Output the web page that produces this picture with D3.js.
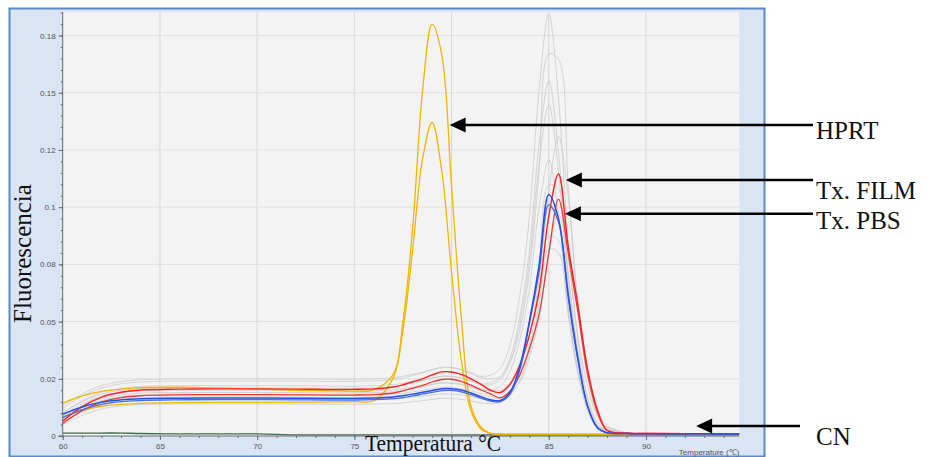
<!DOCTYPE html>
<html>
<head>
<meta charset="utf-8">
<script src="https://cdn.jsdelivr.net/npm/d3@7"></script>
<style>
  html, body { margin: 0; padding: 0; background: #ffffff; }
  svg { display: block; }
</style>
</head>
<body>
<svg id="chart" width="929" height="457"></svg>
<script>
// Melt-curve readings (-dF/dT), sampled at these temperatures (°C)
const temps = [60,61,62,63,64,66,68,70,72,74,75,76,77,77.5,78,78.5,79,79.5,80,80.5,81,81.5,82,82.5,83,83.5,84,84.5,85,85.5,86,86.5,87,87.5,88,89,90,92,94.8];

// Other wells (shown in light grey)
const grey1 = [0.0130,0.0184,0.0220,0.0238,0.0246,0.0250,0.0250,0.0250,0.0250,0.0248,0.0248,0.0250,0.0254,0.0261,0.0270,0.0279,0.0291,0.0300,0.0299,0.0291,0.0277,0.0261,0.0266,0.0295,0.0394,0.0607,0.0956,0.1509,0.1845,0.1474,0.0839,0.0418,0.0166,0.0052,0.0025,0.0013,0.0009,0.0008,0.0007];
const grey2 = [0.0120,0.0174,0.0210,0.0228,0.0236,0.0240,0.0240,0.0240,0.0240,0.0238,0.0239,0.0241,0.0246,0.0254,0.0264,0.0275,0.0289,0.0300,0.0299,0.0290,0.0273,0.0255,0.0249,0.0258,0.0321,0.0458,0.0718,0.1150,0.1670,0.1647,0.1087,0.0567,0.0259,0.0095,0.0039,0.0013,0.0009,0.0008,0.0007];
const grey3 = [0.0100,0.0154,0.0190,0.0208,0.0216,0.0220,0.0220,0.0220,0.0220,0.0218,0.0218,0.0220,0.0224,0.0230,0.0237,0.0243,0.0253,0.0261,0.0260,0.0254,0.0242,0.0228,0.0233,0.0256,0.0340,0.0517,0.0810,0.1272,0.1551,0.1239,0.0704,0.0352,0.0140,0.0044,0.0023,0.0012,0.0009,0.0008,0.0007];
const grey4 = [0.0100,0.0150,0.0183,0.0199,0.0207,0.0210,0.0210,0.0210,0.0210,0.0208,0.0209,0.0210,0.0215,0.0222,0.0231,0.0240,0.0252,0.0261,0.0261,0.0253,0.0239,0.0223,0.0225,0.0244,0.0321,0.0487,0.0758,0.1187,0.1447,0.1155,0.0657,0.0328,0.0130,0.0041,0.0022,0.0012,0.0009,0.0008,0.0007];
const grey5 = [0.0090,0.0140,0.0173,0.0189,0.0197,0.0200,0.0200,0.0200,0.0200,0.0198,0.0198,0.0200,0.0202,0.0207,0.0213,0.0218,0.0226,0.0232,0.0231,0.0226,0.0217,0.0205,0.0201,0.0201,0.0228,0.0293,0.0437,0.0678,0.1067,0.1308,0.1047,0.0591,0.0296,0.0116,0.0046,0.0015,0.0009,0.0008,0.0007];
const grey6 = [0.0080,0.0130,0.0163,0.0179,0.0187,0.0190,0.0190,0.0190,0.0190,0.0188,0.0189,0.0190,0.0194,0.0200,0.0207,0.0214,0.0224,0.0232,0.0231,0.0225,0.0213,0.0200,0.0201,0.0217,0.0281,0.0417,0.0641,0.0996,0.1207,0.0962,0.0547,0.0273,0.0109,0.0034,0.0020,0.0012,0.0009,0.0008,0.0007];
const grey7 = [0.0080,0.0125,0.0155,0.0170,0.0177,0.0180,0.0180,0.0180,0.0180,0.0178,0.0179,0.0180,0.0182,0.0187,0.0193,0.0199,0.0207,0.0213,0.0212,0.0207,0.0198,0.0186,0.0183,0.0190,0.0231,0.0319,0.0486,0.0763,0.1098,0.1078,0.0711,0.0370,0.0169,0.0062,0.0029,0.0013,0.0009,0.0008,0.0007];
const grey8 = [0.0070,0.0115,0.0145,0.0160,0.0167,0.0170,0.0170,0.0170,0.0170,0.0168,0.0169,0.0170,0.0173,0.0178,0.0184,0.0189,0.0197,0.0203,0.0202,0.0197,0.0188,0.0177,0.0172,0.0169,0.0188,0.0235,0.0340,0.0514,0.0796,0.0969,0.0774,0.0437,0.0219,0.0086,0.0037,0.0014,0.0009,0.0008,0.0007];
const grey9 = [0.0060,0.0105,0.0135,0.0150,0.0157,0.0160,0.0160,0.0160,0.0160,0.0158,0.0159,0.0160,0.0162,0.0165,0.0170,0.0173,0.0179,0.0184,0.0183,0.0180,0.0173,0.0163,0.0161,0.0166,0.0198,0.0267,0.0397,0.0612,0.0873,0.0854,0.0563,0.0294,0.0134,0.0049,0.0025,0.0012,0.0009,0.0008,0.0007];
const grey10 = [0.0050,0.0090,0.0118,0.0131,0.0137,0.0140,0.0140,0.0140,0.0140,0.0139,0.0139,0.0140,0.0142,0.0145,0.0150,0.0154,0.0160,0.0165,0.0163,0.0160,0.0153,0.0144,0.0142,0.0147,0.0177,0.0242,0.0365,0.0570,0.0816,0.0801,0.0528,0.0275,0.0126,0.0046,0.0025,0.0011,0.0009,0.0008,0.0007];

// HPRT (reference gene)
const hprt1 = [0.0143,0.0175,0.0195,0.0205,0.0211,0.0213,0.0210,0.0205,0.0200,0.0197,0.0196,0.0202,0.0270,0.0500,0.0910,0.1500,0.1800,0.1665,0.1090,0.0520,0.0130,0.0040,0.0012,0.0008,0.0008,0.0008,0.0008,0.0008,0.0008,0.0008,0.0008,0.0008,0.0008,0.0008,0.0008,0.0008,0.0008,0.0007,0.0007];
const hprt2 = [0.0085,0.0112,0.0130,0.0138,0.0143,0.0146,0.0147,0.0147,0.0148,0.0149,0.0150,0.0154,0.0254,0.0462,0.0815,0.1206,0.1370,0.1156,0.0715,0.0332,0.0110,0.0032,0.0012,0.0009,0.0008,0.0008,0.0008,0.0008,0.0008,0.0008,0.0008,0.0008,0.0008,0.0008,0.0008,0.0008,0.0007,0.0007,0.0007];

// Treatment with film
const film1 = [0.0065,0.0128,0.0170,0.0191,0.0201,0.0205,0.0206,0.0206,0.0205,0.0203,0.0204,0.0206,0.0214,0.0224,0.0237,0.0250,0.0267,0.0280,0.0280,0.0269,0.0250,0.0227,0.0200,0.0190,0.0225,0.0307,0.0440,0.0630,0.0960,0.1145,0.0830,0.0570,0.0290,0.0115,0.0025,0.0012,0.0011,0.0010,0.0010];
const film2 = [0.0055,0.0111,0.0149,0.0168,0.0176,0.0180,0.0181,0.0181,0.0180,0.0179,0.0179,0.0181,0.0188,0.0197,0.0209,0.0221,0.0236,0.0247,0.0248,0.0239,0.0222,0.0202,0.0184,0.0167,0.0195,0.0265,0.0380,0.0530,0.0800,0.1035,0.0800,0.0540,0.0270,0.0105,0.0025,0.0012,0.0011,0.0010,0.0010];

// Treatment with PBS
const pbs1 = [0.0095,0.0127,0.0148,0.0158,0.0163,0.0165,0.0166,0.0166,0.0165,0.0164,0.0164,0.0166,0.0170,0.0176,0.0183,0.0191,0.0199,0.0207,0.0207,0.0201,0.0188,0.0172,0.0158,0.0155,0.0190,0.0300,0.0500,0.0745,0.1055,0.0950,0.0620,0.0340,0.0130,0.0037,0.0014,0.0011,0.0010,0.0010,0.0009];
const pbs2 = [0.0080,0.0115,0.0138,0.0150,0.0155,0.0158,0.0159,0.0159,0.0158,0.0157,0.0157,0.0159,0.0163,0.0168,0.0175,0.0183,0.0191,0.0198,0.0199,0.0193,0.0181,0.0166,0.0153,0.0150,0.0182,0.0285,0.0490,0.0715,0.1010,0.0935,0.0605,0.0330,0.0128,0.0036,0.0014,0.0011,0.0010,0.0009,0.0009];

// Negative control
const negControl = [0.0013,0.0013,0.0013,0.0013,0.0011,0.0009,0.0009,0.0009,0.0005,0.0005,0.0005,0.0005,0.0005,0.0005,0.0005,0.0005,0.0005,0.0005,0.0005,0.0005,0.0005,0.0005,0.0005,0.0005,0.0005,0.0005,0.0005,0.0005,0.0005,0.0005,0.0005,0.0005,0.0005,0.0005,0.0005,0.0005,0.0005,0.0005,0.0005];

// Axis ticks
const xTicks = [60, 65, 70, 75, 80, 85, 90];
const xTickLabels = ["60", "65", "70", "75", "", "85", "90"];
const yTicks = [0, 0.025, 0.05, 0.075, 0.1, 0.125, 0.15, 0.175];
const yTickLabels = ["0", "0.02", "0.05", "0.08", "0.1", "0.12", "0.15", "0.18"];

// Annotation labels
const labelNames = ["HPRT", "Tx. FILM", "Tx. PBS", "CN"];

// ---------------------------------------------------------------
const svg = d3.select("#chart");
const plot = { left: 62.7, right: 739.3, top: 12, bottom: 436 };

const x = d3.scaleLinear().domain([60, 94.8]).range([plot.left, plot.right]);
const y = d3.scaleLinear().domain([0, 0.1853]).range([plot.bottom, plot.top]);

// outer blue panel
svg.append("rect")
  .attr("x", 9.5).attr("y", 8.5).attr("width", 755).attr("height", 448)
  .attr("fill", "#d9e4f4").attr("stroke", "#5b88c9").attr("stroke-width", 2);

// plot background
svg.append("rect")
  .attr("x", plot.left).attr("y", plot.top)
  .attr("width", plot.right - plot.left).attr("height", plot.bottom - plot.top)
  .attr("fill", "#f3f3f3");

// grid
const grid = svg.append("g");
grid.selectAll("line.v").data(xTicks.filter(d => d > 60)).join("line")
  .attr("x1", d => x(d)).attr("x2", d => x(d))
  .attr("y1", plot.top).attr("y2", plot.bottom)
  .attr("stroke", "#d6d6d6").attr("stroke-width", 1);
grid.selectAll("line.h").data(yTicks.filter(d => d > 0)).join("line")
  .attr("x1", plot.left).attr("x2", plot.right)
  .attr("y1", d => y(d)).attr("y2", d => y(d))
  .attr("stroke", "#e0e0e0").attr("stroke-width", 1);

// clip for curves
svg.append("clipPath").attr("id", "plotClip")
  .append("rect")
  .attr("x", plot.left).attr("y", plot.top)
  .attr("width", plot.right - plot.left).attr("height", plot.bottom - plot.top + 2);

const line = d3.line()
  .x((d, i) => x(temps[i]))
  .y(d => y(d))
  .curve(d3.curveCatmullRom.alpha(0.5));

const curves = svg.append("g").attr("clip-path", "url(#plotClip)");

const series = [
  { v: grey1, c: "#c9c9c9", w: 1, o: 0.75 },
  { v: grey2, c: "#c9c9c9", w: 1, o: 0.75 },
  { v: grey3, c: "#c9c9c9", w: 1, o: 0.75 },
  { v: grey4, c: "#c9c9c9", w: 1, o: 0.75 },
  { v: grey5, c: "#c9c9c9", w: 1, o: 0.75 },
  { v: grey6, c: "#c9c9c9", w: 1, o: 0.75 },
  { v: grey7, c: "#c9c9c9", w: 1, o: 0.75 },
  { v: grey8, c: "#c9c9c9", w: 1, o: 0.75 },
  { v: grey9, c: "#c9c9c9", w: 1, o: 0.75 },
  { v: grey10, c: "#c9c9c9", w: 1, o: 0.75 },
  { v: negControl, c: "#3f6b52", w: 1.3, o: 1 },
  { v: hprt2, c: "#f2b600", w: 1.3, o: 1 },
  { v: hprt1, c: "#f5b400", w: 1.3, o: 1 },
  { v: film2, c: "#f03a3a", w: 1.3, o: 1 },
  { v: film1, c: "#ff2020", w: 1.4, o: 1 },
  { v: pbs2, c: "#4a6fe0", w: 1.3, o: 1 },
  { v: pbs1, c: "#2452e6", w: 1.5, o: 1 }
];

curves.selectAll("path").data(series).join("path")
  .attr("d", d => line(d.v))
  .attr("fill", "none")
  .attr("stroke", d => d.c)
  .attr("stroke-width", d => d.w)
  .attr("stroke-opacity", d => d.o);

// axes
const tickFont = "'Liberation Sans', Arial, sans-serif";

const yAxis = svg.append("g").attr("transform", `translate(${plot.left},0)`)
  .call(d3.axisLeft(y).tickValues(yTicks).tickFormat((d, i) => yTickLabels[i]).tickSize(4).tickPadding(3));
const yMinor = svg.append("g").attr("transform", `translate(${plot.left},0)`)
  .call(d3.axisLeft(y).tickValues(d3.range(0, 0.1851, 0.005)).tickFormat("").tickSize(2));

const xAxis = svg.append("g").attr("transform", `translate(0,${plot.bottom})`)
  .call(d3.axisBottom(x).tickValues(xTicks).tickFormat((d, i) => xTickLabels[i]).tickSize(4).tickPadding(3));
const xMinor = svg.append("g").attr("transform", `translate(0,${plot.bottom})`)
  .call(d3.axisBottom(x).tickValues(d3.range(60, 94.5, 1)).tickFormat("").tickSize(2));

[yAxis, yMinor, xAxis, xMinor].forEach(g => {
  g.select(".domain").attr("stroke", "#6a6a6a").attr("stroke-width", 1);
  g.selectAll(".tick line").attr("stroke", "#6a6a6a");
  g.selectAll(".tick text")
    .attr("fill", "#555")
    .style("font-family", tickFont)
    .style("font-size", "8px");
});
yAxis.select(".domain").attr("d", `M-4,${plot.bottom}H0V${plot.top}`);
xAxis.select(".domain").attr("d", `M${plot.left},0H${plot.right}`);
yMinor.select(".domain").remove();
xMinor.select(".domain").remove();

// small axis caption at bottom right
svg.append("text")
  .attr("x", plot.right).attr("y", 455)
  .attr("text-anchor", "end")
  .attr("fill", "#555")
  .style("font-family", tickFont)
  .style("font-size", "8px")
  .text("Temperature (\u2103)");

// large serif axis titles
const serif = "'Liberation Serif', 'Times New Roman', serif";

svg.append("text")
  .attr("transform", "translate(31,253.5) rotate(-90)")
  .attr("text-anchor", "middle")
  .attr("fill", "#111")
  .style("font-family", serif)
  .style("font-size", "25px")
  .text("Fluorescencia");

svg.append("text")
  .attr("x", 365).attr("y", 451)
  .attr("fill", "#111")
  .attr("textLength", 136)
  .attr("lengthAdjust", "spacingAndGlyphs")
  .style("font-family", serif)
  .style("font-size", "24px")
  .text("Temperatura \u00B0C");

// annotations: arrow tips in data units, labels on the right margin
const annotations = [
  { name: labelNames[0], tipT: 79.9, tipV: 0.1359, tail: 813, textY: 138.5 },
  { name: labelNames[1], tipT: 85.88, tipV: 0.1119, tail: 813, textY: 199 },
  { name: labelNames[2], tipT: 85.83, tipV: 0.0971, tail: 813, textY: 229 },
  { name: labelNames[3], tipT: 92.58, tipV: 0.0044, tail: 800, textY: 445 }
];

const ann = svg.append("g");
annotations.forEach(a => {
  const tx = x(a.tipT), ty = y(a.tipV);
  const headLen = 16, headHalf = 7.5;
  ann.append("line")
    .attr("x1", tx + headLen - 1).attr("x2", a.tail)
    .attr("y1", ty).attr("y2", ty)
    .attr("stroke", "#000").attr("stroke-width", 2.6);
  ann.append("path")
    .attr("d", `M${tx},${ty}L${tx + headLen},${ty - headHalf}L${tx + headLen},${ty + headHalf}Z`)
    .attr("fill", "#000");
  ann.append("text")
    .attr("x", 816).attr("y", a.textY)
    .attr("fill", "#111")
    .style("font-family", serif)
    .style("font-size", "25px")
    .text(a.name);
});
</script>
</body>
</html>
